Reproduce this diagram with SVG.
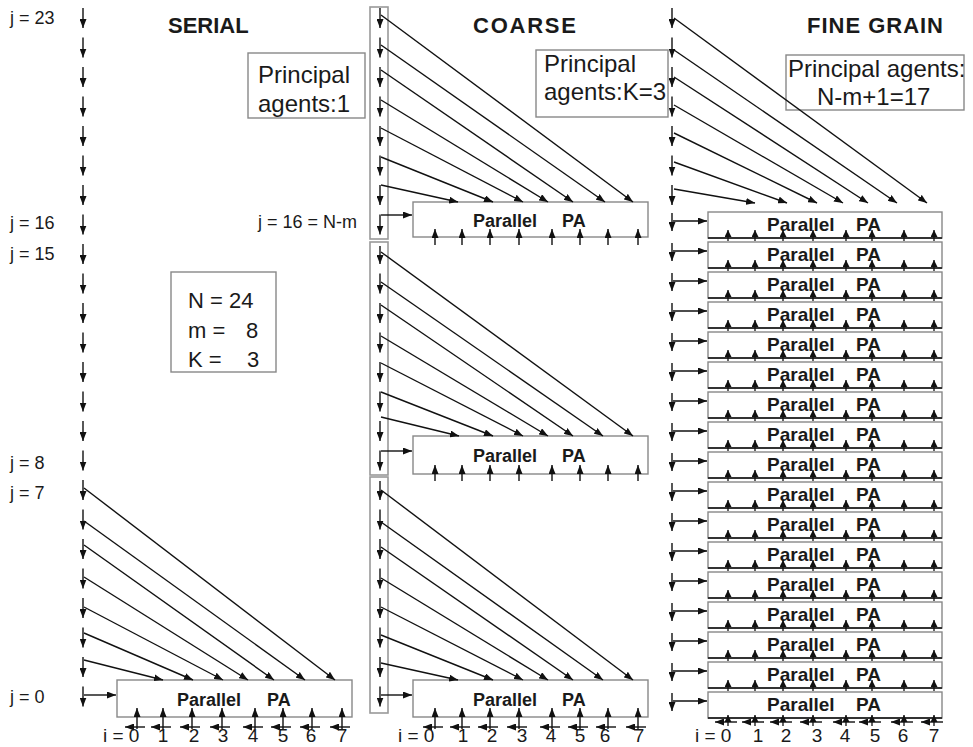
<svg xmlns="http://www.w3.org/2000/svg" xmlns:xlink="http://www.w3.org/1999/xlink" width="973" height="747" viewBox="0 0 973 747">
<style>
.ln{stroke:#111;stroke-width:1.4;fill:none;marker-end:url(#ah)}
.sm{stroke:#111;stroke-width:1.3;fill:none;marker-end:url(#as)}
.box{fill:#fff;stroke:#888;stroke-width:1.4}
.col{fill:none;stroke:#999;stroke-width:1.6}
.bot{stroke:#333;stroke-width:1.8}
text{font-family:"Liberation Sans",Arial,sans-serif;fill:#1a1a1a}
.lbl{font-size:18px}
.ttl{font-size:22px;font-weight:bold}
.pa{font-size:18px;font-weight:bold}
.paf{font-size:19px;font-weight:bold}
.big{font-size:24px}
.par{font-size:22px}
.dg{font-size:19px;text-anchor:middle}
.il{font-size:19px}
</style>
<defs>
<marker id="ah" viewBox="0 0 9 7" refX="9" refY="3.5" markerWidth="9" markerHeight="7" markerUnits="userSpaceOnUse" orient="auto"><path d="M0,0 L9,3.5 L0,7 z" fill="#111"/></marker>
<marker id="as" viewBox="0 0 7 7" refX="7" refY="3.5" markerWidth="7" markerHeight="7" markerUnits="userSpaceOnUse" orient="auto"><path d="M0,0 L7,3.5 L0,7 z" fill="#111"/></marker>
<g id="fineUps">
<line class="sm" x1="728" y1="29" x2="728" y2="18"/><line class="sm" x1="755" y1="29" x2="755" y2="18"/><line class="sm" x1="783" y1="29" x2="783" y2="18"/><line class="sm" x1="813" y1="29" x2="813" y2="18"/><line class="sm" x1="846" y1="29" x2="846" y2="18"/><line class="sm" x1="872" y1="29" x2="872" y2="18"/><line class="sm" x1="904" y1="29" x2="904" y2="18"/><line class="sm" x1="934" y1="29" x2="934" y2="18"/>
</g>
<g id="fineIn">
<line class="ln" x1="672" y1="1" x2="672" y2="19"/><line class="ln" x1="673" y1="9" x2="707" y2="9"/>
</g>
<g id="fineBox">
<rect class="box" x="708" y="0" width="234" height="26"/>
<line class="bot" x1="708" y1="26" x2="942" y2="26"/>
<text class="paf" x="767" y="19">Parallel</text><text class="paf" x="856" y="19">PA</text>
</g>
</defs>
<rect width="973" height="747" fill="#fff"/>

<g id="titles">
<text class="ttl" x="168" y="33">SERIAL</text>
<text class="ttl" x="473" y="33" textLength="103">COARSE</text>
<text class="ttl" x="807" y="33" textLength="136">FINE GRAIN</text>
</g>

<g id="j-labels">
<text class="lbl" x="10" y="24">j = 23</text>
<text class="lbl" x="10" y="229">j = 16</text>
<text class="lbl" x="10" y="260">j = 15</text>
<text class="lbl" x="10" y="469">j = 8</text>
<text class="lbl" x="10" y="499">j = 7</text>
<text class="lbl" x="10" y="703">j = 0</text>
<text class="lbl" x="258" y="228">j = 16 = N-m</text>
</g>

<g id="principal-serial">
<rect class="box" x="248" y="53" width="117" height="65"/>
<text class="big" x="258" y="83">Principal</text>
<text class="big" x="258" y="112">agents:1</text>
</g>
<g id="principal-coarse">
<rect class="box" x="536" y="50" width="132" height="67"/>
<text class="big" x="544" y="72">Principal</text>
<text class="big" x="544" y="100">agents:K=3</text>
</g>
<g id="principal-fine">
<rect class="box" x="786" y="55" width="178" height="55"/>
<text class="big" x="788" y="77">Principal agents:</text>
<text class="big" x="817" y="105">N-m+1=17</text>
</g>
<g id="params">
<rect class="box" x="171" y="272" width="105" height="100"/>
<text class="par" x="188" y="308">N = 24</text>
<text class="par" x="188" y="338" xml:space="preserve">m = <tspan x="246">8</tspan></text>
<text class="par" x="188" y="367" xml:space="preserve">K = <tspan x="247">3</tspan></text>
</g>

<g id="coarse-columns">
<rect class="col" x="370" y="7" width="18" height="232"/>
<rect class="col" x="370" y="242" width="18" height="233"/>
<rect class="col" x="370" y="477" width="18" height="236"/>
</g>

<g id="serial-pa">
<rect class="box" x="117" y="680" width="235" height="37"/>
<text class="pa" x="177" y="706">Parallel</text><text class="pa" x="267" y="706">PA</text>
</g>
<g id="coarse-pa-1">
<rect class="box" x="413" y="202" width="235" height="35"/>
<text class="pa" x="473" y="227">Parallel</text><text class="pa" x="562" y="227">PA</text>
</g>
<g id="coarse-pa-2">
<rect class="box" x="413" y="436" width="235" height="38"/>
<text class="pa" x="473" y="462">Parallel</text><text class="pa" x="562" y="462">PA</text>
</g>
<g id="coarse-pa-3">
<rect class="box" x="413" y="680" width="235" height="37"/>
<text class="pa" x="473" y="706">Parallel</text><text class="pa" x="562" y="706">PA</text>
</g>

<g id="fine-pa-1"><use xlink:href="#fineBox" y="212"/></g>
<g id="fine-pa-2"><use xlink:href="#fineBox" y="242"/></g>
<g id="fine-pa-3"><use xlink:href="#fineBox" y="272"/></g>
<g id="fine-pa-4"><use xlink:href="#fineBox" y="302"/></g>
<g id="fine-pa-5"><use xlink:href="#fineBox" y="332"/></g>
<g id="fine-pa-6"><use xlink:href="#fineBox" y="362"/></g>
<g id="fine-pa-7"><use xlink:href="#fineBox" y="392"/></g>
<g id="fine-pa-8"><use xlink:href="#fineBox" y="422"/></g>
<g id="fine-pa-9"><use xlink:href="#fineBox" y="452"/></g>
<g id="fine-pa-10"><use xlink:href="#fineBox" y="482"/></g>
<g id="fine-pa-11"><use xlink:href="#fineBox" y="512"/></g>
<g id="fine-pa-12"><use xlink:href="#fineBox" y="542"/></g>
<g id="fine-pa-13"><use xlink:href="#fineBox" y="572"/></g>
<g id="fine-pa-14"><use xlink:href="#fineBox" y="602"/></g>
<g id="fine-pa-15"><use xlink:href="#fineBox" y="632"/></g>
<g id="fine-pa-16"><use xlink:href="#fineBox" y="662"/></g>
<g id="fine-pa-17"><use xlink:href="#fineBox" y="692"/></g>

<g id="connectors">
<line class="ln" x1="83" y1="8" x2="83" y2="28"/><line class="ln" x1="83" y1="37.5" x2="83" y2="57.5"/><line class="ln" x1="83" y1="67" x2="83" y2="87"/><line class="ln" x1="83" y1="96.5" x2="83" y2="116.5"/><line class="ln" x1="83" y1="126" x2="83" y2="146"/><line class="ln" x1="83" y1="155.5" x2="83" y2="175.5"/><line class="ln" x1="83" y1="185" x2="83" y2="205"/><line class="ln" x1="83" y1="214.5" x2="83" y2="234.5"/>
<line class="ln" x1="83" y1="244" x2="83" y2="264"/><line class="ln" x1="83" y1="273.5" x2="83" y2="293.5"/><line class="ln" x1="83" y1="303" x2="83" y2="323"/><line class="ln" x1="83" y1="332.5" x2="83" y2="352.5"/><line class="ln" x1="83" y1="362" x2="83" y2="382"/><line class="ln" x1="83" y1="391.5" x2="83" y2="411.5"/><line class="ln" x1="83" y1="421" x2="83" y2="441"/><line class="ln" x1="83" y1="450.5" x2="83" y2="470.5"/>
<line class="ln" x1="83" y1="480" x2="83" y2="500"/><line class="ln" x1="83" y1="509.5" x2="83" y2="529.5"/><line class="ln" x1="83" y1="539" x2="83" y2="559"/><line class="ln" x1="83" y1="568.5" x2="83" y2="588.5"/><line class="ln" x1="83" y1="598" x2="83" y2="618"/><line class="ln" x1="83" y1="627.5" x2="83" y2="647.5"/><line class="ln" x1="83" y1="657" x2="83" y2="677"/><line class="ln" x1="83" y1="686.5" x2="83" y2="706.5"/>
<line class="ln" x1="84" y1="488" x2="335" y2="680"/><line class="ln" x1="84" y1="521" x2="305" y2="680"/><line class="ln" x1="84" y1="545" x2="274" y2="680"/><line class="ln" x1="84" y1="577" x2="248" y2="680"/><line class="ln" x1="84" y1="607" x2="223" y2="680"/><line class="ln" x1="84" y1="633" x2="193" y2="680"/><line class="ln" x1="84" y1="660" x2="163" y2="680"/><line class="ln" x1="84" y1="695" x2="116" y2="695"/>
<line class="ln" x1="137" y1="729" x2="137" y2="708"/><line class="ln" x1="163" y1="729" x2="163" y2="708"/><line class="ln" x1="192" y1="729" x2="192" y2="708"/><line class="ln" x1="222" y1="729" x2="222" y2="708"/><line class="ln" x1="255" y1="729" x2="255" y2="708"/><line class="ln" x1="283" y1="729" x2="283" y2="708"/><line class="ln" x1="312" y1="729" x2="312" y2="708"/><line class="ln" x1="342" y1="729" x2="342" y2="708"/>
<line class="ln" x1="145" y1="727" x2="125" y2="727"/><line class="ln" x1="171" y1="727" x2="151" y2="727"/><line class="ln" x1="200" y1="727" x2="180" y2="727"/><line class="ln" x1="230" y1="727" x2="210" y2="727"/><line class="ln" x1="263" y1="727" x2="243" y2="727"/><line class="ln" x1="291" y1="727" x2="271" y2="727"/><line class="ln" x1="320" y1="727" x2="300" y2="727"/><line class="ln" x1="350" y1="727" x2="330" y2="727"/>
<line class="ln" x1="380" y1="8" x2="380" y2="28"/><line class="ln" x1="380" y1="37.5" x2="380" y2="57.5"/><line class="ln" x1="380" y1="67" x2="380" y2="87"/><line class="ln" x1="380" y1="96.5" x2="380" y2="116.5"/><line class="ln" x1="380" y1="126" x2="380" y2="146"/><line class="ln" x1="380" y1="155.5" x2="380" y2="175.5"/><line class="ln" x1="380" y1="185" x2="380" y2="205"/><line class="ln" x1="380" y1="214.5" x2="380" y2="234.5"/>
<line class="ln" x1="380" y1="246" x2="380" y2="264"/><line class="ln" x1="380" y1="273.5" x2="380" y2="293.5"/><line class="ln" x1="380" y1="303" x2="380" y2="323"/><line class="ln" x1="380" y1="332.5" x2="380" y2="352.5"/><line class="ln" x1="380" y1="362" x2="380" y2="382"/><line class="ln" x1="380" y1="391.5" x2="380" y2="411.5"/><line class="ln" x1="380" y1="421" x2="380" y2="441"/><line class="ln" x1="380" y1="450.5" x2="380" y2="470.5"/>
<line class="ln" x1="380" y1="481" x2="380" y2="500"/><line class="ln" x1="380" y1="509.5" x2="380" y2="529.5"/><line class="ln" x1="380" y1="539" x2="380" y2="559"/><line class="ln" x1="380" y1="568.5" x2="380" y2="588.5"/><line class="ln" x1="380" y1="598" x2="380" y2="618"/><line class="ln" x1="380" y1="627.5" x2="380" y2="647.5"/><line class="ln" x1="380" y1="657" x2="380" y2="677"/><line class="ln" x1="380" y1="686.5" x2="380" y2="706.5"/>
<line class="ln" x1="381" y1="15" x2="633" y2="202"/><line class="ln" x1="381" y1="45" x2="605" y2="202"/><line class="ln" x1="381" y1="70" x2="573" y2="202"/><line class="ln" x1="381" y1="100" x2="548" y2="202"/><line class="ln" x1="381" y1="128" x2="523" y2="202"/><line class="ln" x1="381" y1="157" x2="493" y2="202"/><line class="ln" x1="381" y1="185" x2="458" y2="202"/><line class="ln" x1="381" y1="215" x2="412" y2="215"/>
<line class="ln" x1="381" y1="252" x2="633" y2="436"/><line class="ln" x1="381" y1="282" x2="603" y2="436"/><line class="ln" x1="381" y1="305" x2="573" y2="436"/><line class="ln" x1="381" y1="336" x2="548" y2="436"/><line class="ln" x1="381" y1="363" x2="523" y2="436"/><line class="ln" x1="381" y1="392" x2="493" y2="436"/><line class="ln" x1="381" y1="417" x2="459" y2="436"/><line class="ln" x1="381" y1="451" x2="412" y2="451"/>
<line class="ln" x1="381" y1="490" x2="633" y2="680"/><line class="ln" x1="381" y1="522" x2="603" y2="680"/><line class="ln" x1="381" y1="547" x2="573" y2="680"/><line class="ln" x1="381" y1="578" x2="548" y2="680"/><line class="ln" x1="381" y1="607" x2="523" y2="680"/><line class="ln" x1="381" y1="635" x2="493" y2="680"/><line class="ln" x1="381" y1="663" x2="458" y2="680"/><line class="ln" x1="381" y1="695" x2="412" y2="695"/>
<line class="ln" x1="435" y1="245" x2="435" y2="229"/><line class="ln" x1="462" y1="245" x2="462" y2="229"/><line class="ln" x1="490" y1="245" x2="490" y2="229"/><line class="ln" x1="519" y1="245" x2="519" y2="229"/><line class="ln" x1="552" y1="245" x2="552" y2="229"/><line class="ln" x1="580" y1="245" x2="580" y2="229"/><line class="ln" x1="608" y1="245" x2="608" y2="229"/><line class="ln" x1="638" y1="245" x2="638" y2="229"/>
<line class="ln" x1="435" y1="481" x2="435" y2="465"/><line class="ln" x1="462" y1="481" x2="462" y2="465"/><line class="ln" x1="490" y1="481" x2="490" y2="465"/><line class="ln" x1="519" y1="481" x2="519" y2="465"/><line class="ln" x1="552" y1="481" x2="552" y2="465"/><line class="ln" x1="580" y1="481" x2="580" y2="465"/><line class="ln" x1="608" y1="481" x2="608" y2="465"/><line class="ln" x1="638" y1="481" x2="638" y2="465"/>
<line class="ln" x1="435" y1="729" x2="435" y2="708"/><line class="ln" x1="462" y1="729" x2="462" y2="708"/><line class="ln" x1="490" y1="729" x2="490" y2="708"/><line class="ln" x1="519" y1="729" x2="519" y2="708"/><line class="ln" x1="552" y1="729" x2="552" y2="708"/><line class="ln" x1="580" y1="729" x2="580" y2="708"/><line class="ln" x1="608" y1="729" x2="608" y2="708"/><line class="ln" x1="638" y1="729" x2="638" y2="708"/>
<line class="ln" x1="443" y1="727" x2="423" y2="727"/><line class="ln" x1="470" y1="727" x2="450" y2="727"/><line class="ln" x1="498" y1="727" x2="478" y2="727"/><line class="ln" x1="527" y1="727" x2="507" y2="727"/><line class="ln" x1="560" y1="727" x2="540" y2="727"/><line class="ln" x1="588" y1="727" x2="568" y2="727"/><line class="ln" x1="616" y1="727" x2="596" y2="727"/><line class="ln" x1="646" y1="727" x2="626" y2="727"/>
<line class="ln" x1="672" y1="8" x2="672" y2="28"/><line class="ln" x1="672" y1="37.5" x2="672" y2="57.5"/><line class="ln" x1="672" y1="67" x2="672" y2="87"/><line class="ln" x1="672" y1="96.5" x2="672" y2="116.5"/><line class="ln" x1="672" y1="126" x2="672" y2="146"/><line class="ln" x1="672" y1="155.5" x2="672" y2="175.5"/><line class="ln" x1="672" y1="185" x2="672" y2="205"/>
<line class="ln" x1="674" y1="18" x2="927" y2="203"/><line class="ln" x1="674" y1="50" x2="897" y2="203"/><line class="ln" x1="674" y1="77" x2="868" y2="203"/><line class="ln" x1="674" y1="105" x2="843" y2="203"/><line class="ln" x1="674" y1="133" x2="817" y2="203"/><line class="ln" x1="674" y1="162" x2="787" y2="203"/><line class="ln" x1="674" y1="189" x2="755" y2="203"/>
<use xlink:href="#fineIn" y="212"/><use xlink:href="#fineIn" y="242"/><use xlink:href="#fineIn" y="272"/><use xlink:href="#fineIn" y="302"/><use xlink:href="#fineIn" y="332"/><use xlink:href="#fineIn" y="362"/><use xlink:href="#fineIn" y="392"/><use xlink:href="#fineIn" y="422"/><use xlink:href="#fineIn" y="452"/><use xlink:href="#fineIn" y="482"/><use xlink:href="#fineIn" y="512"/><use xlink:href="#fineIn" y="542"/><use xlink:href="#fineIn" y="572"/><use xlink:href="#fineIn" y="602"/><use xlink:href="#fineIn" y="632"/><use xlink:href="#fineIn" y="662"/><use xlink:href="#fineIn" y="692"/>
<use xlink:href="#fineUps" y="212"/><use xlink:href="#fineUps" y="242"/><use xlink:href="#fineUps" y="272"/><use xlink:href="#fineUps" y="302"/><use xlink:href="#fineUps" y="332"/><use xlink:href="#fineUps" y="362"/><use xlink:href="#fineUps" y="392"/><use xlink:href="#fineUps" y="422"/><use xlink:href="#fineUps" y="452"/><use xlink:href="#fineUps" y="482"/><use xlink:href="#fineUps" y="512"/><use xlink:href="#fineUps" y="542"/><use xlink:href="#fineUps" y="572"/><use xlink:href="#fineUps" y="602"/><use xlink:href="#fineUps" y="632"/><use xlink:href="#fineUps" y="662"/><use xlink:href="#fineUps" y="697"/>
<line class="ln" x1="737" y1="722" x2="715" y2="722"/><line class="ln" x1="764" y1="722" x2="742" y2="722"/><line class="ln" x1="792" y1="722" x2="770" y2="722"/><line class="ln" x1="822" y1="722" x2="800" y2="722"/><line class="ln" x1="855" y1="722" x2="833" y2="722"/><line class="ln" x1="881" y1="722" x2="859" y2="722"/><line class="ln" x1="913" y1="722" x2="891" y2="722"/><line class="ln" x1="943" y1="722" x2="921" y2="722"/>
</g>

<g id="i-labels">
<text class="il" x="103" y="742">i = 0</text>
<text class="dg" x="163" y="742">1</text><text class="dg" x="194" y="742">2</text><text class="dg" x="223" y="742">3</text><text class="dg" x="253" y="742">4</text><text class="dg" x="283" y="742">5</text><text class="dg" x="311" y="742">6</text><text class="dg" x="342" y="742">7</text>
<text class="il" x="398" y="742">i = 0</text>
<text class="dg" x="463" y="742">1</text><text class="dg" x="492" y="742">2</text><text class="dg" x="522" y="742">3</text><text class="dg" x="551" y="742">4</text><text class="dg" x="580" y="742">5</text><text class="dg" x="605" y="742">6</text><text class="dg" x="639" y="742">7</text>
<text class="il" x="695" y="742">i = 0</text>
<text class="dg" x="758" y="742">1</text><text class="dg" x="786" y="742">2</text><text class="dg" x="817" y="742">3</text><text class="dg" x="845" y="742">4</text><text class="dg" x="875" y="742">5</text><text class="dg" x="903" y="742">6</text><text class="dg" x="934" y="742">7</text>
</g>
</svg>
